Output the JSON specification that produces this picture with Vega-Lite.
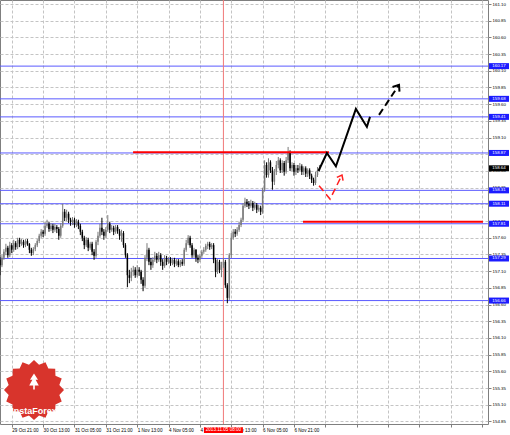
{
"$schema":"https://vega.github.io/schema/vega-lite/v6.json",
"width":488,"height":424,
"autosize":{"type":"none"},
"padding":{"left":0,"top":0,"right":22,"bottom":11},
"background":"#ffffff",
"config":{
 "view":{"stroke":"#7f7f7f","strokeWidth":1},
 "scale":{"continuousPadding":0},
 "axis":{"labelFont":"Liberation Sans","labelColor":"#000000","title":null,"grid":true,"gridColor":"#c4c4c4","gridDash":[3,2],"gridWidth":1,"domain":false,"tickSize":3,"tickColor":"#7f7f7f","labelOverlap":false,"labelFlush":false,"labelBound":false,"tickCount":60},
 "axisX":{"labelFontSize":4.6,"labelAlign":"left","labelBaseline":"top","labelPadding":0},
 "axisY":{"labelFontSize":4.4,"labelPadding":1,"labelBaseline":"middle"}
},
"datasets":{
"bars":[
{"i":-6,"o":157.27,"h":157.31,"l":157.04,"c":157.19},
{"i":-5,"o":157.19,"h":157.34,"l":157.16,"c":157.30},
{"i":-4,"o":157.30,"h":157.43,"l":157.27,"c":157.39},
{"i":-3,"o":157.39,"h":157.51,"l":157.34,"c":157.45},
{"i":-2,"o":157.45,"h":157.48,"l":157.30,"c":157.34},
{"i":-1,"o":157.34,"h":157.54,"l":157.31,"c":157.49},
{"i":0,"o":157.49,"h":157.52,"l":157.37,"c":157.42},
{"i":1,"o":157.42,"h":157.57,"l":157.39,"c":157.52},
{"i":2,"o":157.52,"h":157.55,"l":157.42,"c":157.46},
{"i":3,"o":157.46,"h":157.60,"l":157.43,"c":157.57},
{"i":4,"o":157.57,"h":157.60,"l":157.46,"c":157.51},
{"i":5,"o":157.51,"h":157.58,"l":157.48,"c":157.54},
{"i":6,"o":157.54,"h":157.57,"l":157.45,"c":157.49},
{"i":7,"o":157.49,"h":157.58,"l":157.46,"c":157.55},
{"i":8,"o":157.55,"h":157.58,"l":157.48,"c":157.51},
{"i":9,"o":157.51,"h":157.52,"l":157.37,"c":157.42},
{"i":10,"o":157.42,"h":157.45,"l":157.33,"c":157.37},
{"i":11,"o":157.37,"h":157.46,"l":157.34,"c":157.43},
{"i":12,"o":157.43,"h":157.52,"l":157.40,"c":157.49},
{"i":13,"o":157.49,"h":157.58,"l":157.46,"c":157.55},
{"i":14,"o":157.55,"h":157.66,"l":157.52,"c":157.63},
{"i":15,"o":157.63,"h":157.73,"l":157.60,"c":157.69},
{"i":16,"o":157.69,"h":157.72,"l":157.61,"c":157.66},
{"i":17,"o":157.66,"h":157.84,"l":157.63,"c":157.78},
{"i":18,"o":157.78,"h":157.87,"l":157.75,"c":157.81},
{"i":19,"o":157.81,"h":157.84,"l":157.69,"c":157.73},
{"i":20,"o":157.73,"h":157.82,"l":157.70,"c":157.78},
{"i":21,"o":157.78,"h":157.81,"l":157.67,"c":157.72},
{"i":22,"o":157.72,"h":157.81,"l":157.69,"c":157.76},
{"i":23,"o":157.76,"h":157.79,"l":157.67,"c":157.73},
{"i":24,"o":157.73,"h":157.76,"l":157.57,"c":157.63},
{"i":25,"o":157.63,"h":157.82,"l":157.60,"c":157.78},
{"i":26,"o":157.78,"h":158.11,"l":157.75,"c":157.99},
{"i":27,"o":157.99,"h":158.03,"l":157.85,"c":157.90},
{"i":28,"o":157.90,"h":158.02,"l":157.85,"c":157.96},
{"i":29,"o":157.96,"h":157.99,"l":157.82,"c":157.87},
{"i":30,"o":157.87,"h":157.90,"l":157.78,"c":157.84},
{"i":31,"o":157.84,"h":157.91,"l":157.79,"c":157.87},
{"i":32,"o":157.87,"h":157.90,"l":157.75,"c":157.79},
{"i":33,"o":157.79,"h":157.88,"l":157.76,"c":157.84},
{"i":34,"o":157.84,"h":157.87,"l":157.73,"c":157.78},
{"i":35,"o":157.78,"h":157.81,"l":157.64,"c":157.69},
{"i":36,"o":157.69,"h":157.72,"l":157.55,"c":157.60},
{"i":37,"o":157.60,"h":157.63,"l":157.43,"c":157.49},
{"i":38,"o":157.49,"h":157.61,"l":157.46,"c":157.57},
{"i":39,"o":157.57,"h":157.60,"l":157.40,"c":157.45},
{"i":40,"o":157.45,"h":157.54,"l":157.42,"c":157.51},
{"i":41,"o":157.51,"h":157.54,"l":157.34,"c":157.39},
{"i":42,"o":157.39,"h":157.43,"l":157.27,"c":157.33},
{"i":43,"o":157.33,"h":157.57,"l":157.30,"c":157.54},
{"i":44,"o":157.54,"h":157.69,"l":157.49,"c":157.63},
{"i":45,"o":157.63,"h":157.81,"l":157.60,"c":157.75},
{"i":46,"o":157.75,"h":157.90,"l":157.64,"c":157.69},
{"i":47,"o":157.69,"h":157.73,"l":157.57,"c":157.63},
{"i":48,"o":157.63,"h":157.76,"l":157.60,"c":157.72},
{"i":49,"o":157.72,"h":157.94,"l":157.69,"c":157.81},
{"i":50,"o":157.81,"h":157.84,"l":157.67,"c":157.72},
{"i":51,"o":157.72,"h":157.79,"l":157.69,"c":157.75},
{"i":52,"o":157.75,"h":157.78,"l":157.64,"c":157.69},
{"i":53,"o":157.69,"h":157.79,"l":157.66,"c":157.76},
{"i":54,"o":157.76,"h":157.79,"l":157.66,"c":157.70},
{"i":55,"o":157.70,"h":157.73,"l":157.57,"c":157.63},
{"i":56,"o":157.63,"h":157.72,"l":157.54,"c":157.67},
{"i":57,"o":157.67,"h":157.70,"l":157.45,"c":157.49},
{"i":58,"o":157.49,"h":157.52,"l":157.30,"c":157.34},
{"i":59,"o":157.34,"h":157.37,"l":156.86,"c":157.04},
{"i":60,"o":157.04,"h":157.12,"l":156.92,"c":157.00},
{"i":61,"o":157.00,"h":157.15,"l":156.95,"c":157.09},
{"i":62,"o":157.09,"h":157.18,"l":157.03,"c":157.12},
{"i":63,"o":157.12,"h":157.16,"l":157.00,"c":157.04},
{"i":64,"o":157.04,"h":157.19,"l":157.01,"c":157.12},
{"i":65,"o":157.12,"h":157.16,"l":157.03,"c":157.09},
{"i":66,"o":157.09,"h":157.12,"l":156.91,"c":156.97},
{"i":67,"o":156.97,"h":157.01,"l":156.80,"c":156.88},
{"i":68,"o":156.88,"h":157.34,"l":156.85,"c":157.30},
{"i":69,"o":157.30,"h":157.52,"l":157.25,"c":157.42},
{"i":70,"o":157.42,"h":157.45,"l":157.19,"c":157.24},
{"i":71,"o":157.24,"h":157.30,"l":157.12,"c":157.19},
{"i":72,"o":157.19,"h":157.31,"l":157.15,"c":157.27},
{"i":73,"o":157.27,"h":157.39,"l":157.24,"c":157.33},
{"i":74,"o":157.33,"h":157.37,"l":157.22,"c":157.27},
{"i":75,"o":157.27,"h":157.39,"l":157.24,"c":157.34},
{"i":76,"o":157.34,"h":157.37,"l":157.18,"c":157.24},
{"i":77,"o":157.24,"h":157.28,"l":157.12,"c":157.18},
{"i":78,"o":157.18,"h":157.34,"l":157.15,"c":157.30},
{"i":79,"o":157.30,"h":157.33,"l":157.19,"c":157.24},
{"i":80,"o":157.24,"h":157.31,"l":157.21,"c":157.28},
{"i":81,"o":157.28,"h":157.31,"l":157.18,"c":157.22},
{"i":82,"o":157.22,"h":157.30,"l":157.19,"c":157.27},
{"i":83,"o":157.27,"h":157.30,"l":157.16,"c":157.21},
{"i":84,"o":157.21,"h":157.28,"l":157.18,"c":157.25},
{"i":85,"o":157.25,"h":157.28,"l":157.16,"c":157.19},
{"i":86,"o":157.19,"h":157.27,"l":157.16,"c":157.24},
{"i":87,"o":157.24,"h":157.28,"l":157.18,"c":157.21},
{"i":88,"o":157.21,"h":157.45,"l":157.18,"c":157.42},
{"i":89,"o":157.42,"h":157.57,"l":157.39,"c":157.52},
{"i":90,"o":157.52,"h":157.64,"l":157.49,"c":157.60},
{"i":91,"o":157.60,"h":157.63,"l":157.45,"c":157.49},
{"i":92,"o":157.49,"h":157.52,"l":157.30,"c":157.34},
{"i":93,"o":157.34,"h":157.45,"l":157.30,"c":157.42},
{"i":94,"o":157.42,"h":157.43,"l":157.24,"c":157.30},
{"i":95,"o":157.30,"h":157.34,"l":157.22,"c":157.27},
{"i":96,"o":157.27,"h":157.36,"l":157.24,"c":157.33},
{"i":97,"o":157.33,"h":157.42,"l":157.30,"c":157.39},
{"i":98,"o":157.39,"h":157.46,"l":157.36,"c":157.42},
{"i":99,"o":157.42,"h":157.51,"l":157.39,"c":157.48},
{"i":100,"o":157.48,"h":157.54,"l":157.43,"c":157.51},
{"i":101,"o":157.51,"h":157.54,"l":157.42,"c":157.46},
{"i":102,"o":157.46,"h":157.52,"l":157.43,"c":157.49},
{"i":103,"o":157.49,"h":157.52,"l":157.22,"c":157.27},
{"i":104,"o":157.27,"h":157.30,"l":157.01,"c":157.09},
{"i":105,"o":157.09,"h":157.28,"l":157.06,"c":157.24},
{"i":106,"o":157.24,"h":157.27,"l":157.07,"c":157.12},
{"i":107,"o":157.12,"h":157.24,"l":157.01,"c":157.19},
{"i":108,"o":157.19,"h":157.30,"l":157.15,"c":157.24},
{"i":109,"o":157.24,"h":157.27,"l":156.85,"c":156.89},
{"i":110,"o":156.89,"h":156.92,"l":156.62,"c":156.70},
{"i":111,"o":156.70,"h":157.37,"l":156.67,"c":157.34},
{"i":112,"o":157.34,"h":157.67,"l":157.30,"c":157.60},
{"i":113,"o":157.60,"h":157.73,"l":157.57,"c":157.69},
{"i":114,"o":157.69,"h":157.73,"l":157.61,"c":157.66},
{"i":115,"o":157.66,"h":157.76,"l":157.63,"c":157.72},
{"i":116,"o":157.72,"h":157.84,"l":157.69,"c":157.79},
{"i":117,"o":157.79,"h":157.90,"l":157.76,"c":157.87},
{"i":118,"o":157.87,"h":158.12,"l":157.84,"c":158.08},
{"i":119,"o":158.08,"h":158.20,"l":158.05,"c":158.14},
{"i":120,"o":158.14,"h":158.18,"l":158.06,"c":158.11},
{"i":121,"o":158.11,"h":158.15,"l":158.03,"c":158.08},
{"i":122,"o":158.08,"h":158.17,"l":158.05,"c":158.12},
{"i":123,"o":158.12,"h":158.15,"l":158.00,"c":158.05},
{"i":124,"o":158.05,"h":158.14,"l":158.02,"c":158.09},
{"i":125,"o":158.09,"h":158.12,"l":157.97,"c":158.02},
{"i":126,"o":158.02,"h":158.09,"l":157.99,"c":158.05},
{"i":127,"o":158.05,"h":158.08,"l":157.94,"c":157.99},
{"i":128,"o":157.99,"h":158.35,"l":157.96,"c":158.32},
{"i":129,"o":158.32,"h":158.76,"l":158.29,"c":158.69},
{"i":130,"o":158.69,"h":158.73,"l":158.50,"c":158.54},
{"i":131,"o":158.54,"h":158.79,"l":158.50,"c":158.73},
{"i":132,"o":158.73,"h":158.76,"l":158.57,"c":158.61},
{"i":133,"o":158.61,"h":158.66,"l":158.32,"c":158.44},
{"i":134,"o":158.44,"h":158.63,"l":158.39,"c":158.59},
{"i":135,"o":158.59,"h":158.75,"l":158.54,"c":158.69},
{"i":136,"o":158.69,"h":158.81,"l":158.64,"c":158.76},
{"i":137,"o":158.76,"h":158.79,"l":158.57,"c":158.61},
{"i":138,"o":158.61,"h":158.76,"l":158.57,"c":158.72},
{"i":139,"o":158.72,"h":158.75,"l":158.53,"c":158.59},
{"i":140,"o":158.59,"h":158.81,"l":158.56,"c":158.76},
{"i":141,"o":158.76,"h":158.96,"l":158.72,"c":158.88},
{"i":142,"o":158.88,"h":158.91,"l":158.60,"c":158.64},
{"i":143,"o":158.64,"h":158.73,"l":158.60,"c":158.69},
{"i":144,"o":158.69,"h":158.72,"l":158.53,"c":158.59},
{"i":145,"o":158.59,"h":158.69,"l":158.54,"c":158.64},
{"i":146,"o":158.64,"h":158.69,"l":158.57,"c":158.61},
{"i":147,"o":158.61,"h":158.72,"l":158.59,"c":158.67},
{"i":148,"o":158.67,"h":158.70,"l":158.54,"c":158.59},
{"i":149,"o":158.59,"h":158.67,"l":158.54,"c":158.64},
{"i":150,"o":158.64,"h":158.67,"l":158.51,"c":158.56},
{"i":151,"o":158.56,"h":158.64,"l":158.51,"c":158.61},
{"i":152,"o":158.61,"h":158.64,"l":158.48,"c":158.53},
{"i":153,"o":158.53,"h":158.56,"l":158.42,"c":158.47},
{"i":154,"o":158.47,"h":158.50,"l":158.38,"c":158.42},
{"i":155,"o":158.42,"h":158.59,"l":158.39,"c":158.54},
{"i":156,"o":158.54,"h":158.66,"l":158.51,"c":158.61},
{"i":157,"o":158.61,"h":158.69,"l":158.59,"c":158.64}
],
"levels":[{"p":160.17},{"p":159.68},{"p":159.41},{"p":158.87},{"p":158.31},{"p":158.11},{"p":157.81},{"p":157.29},{"p":156.66}],
"tags":[{"p":160.17},{"p":159.68},{"p":159.41},{"p":158.87},{"p":158.64},{"p":158.31},{"p":158.11},{"p":157.81},{"p":157.29},{"p":156.66}],
"cursor":[{"i":108,"t":"2013.11.05 08:00"}],
"redlines":[{"i":61.9,"i2":161.9,"p":158.88},{"i":148.6,"i2":240.4,"p":157.84}],
"blk":[{"k":0,"i":156.5,"p":158.60},{"k":1,"i":160.8,"p":158.87},{"k":2,"i":165.4,"p":158.67},{"k":3,"i":175.6,"p":159.53},{"k":4,"i":181.2,"p":159.26},{"k":5,"i":182.8,"p":159.41}],
"blkdash":[{"k":0,"i":187.4,"p":159.44},{"k":1,"i":197.6,"p":159.89}],
"reddash":[{"k":0,"i":156.8,"p":158.38},{"k":1,"i":162.4,"p":158.18},{"k":2,"i":168.5,"p":158.54}],
"blkhead":[{"i":197.6,"p":159.89}],
"redhead":[{"i":168.5,"p":158.54}],
"logo":[{"brand":"InstaForex"}]
},
"layer":[
{"data":{"name":"bars"},"mark":{"type":"rule","strokeWidth":1,"opacity":0},
 "encoding":{
  "x":{"field":"i","type":"quantitative","scale":{"domain":[-6,243],"nice":false,"zero":false,"padding":0},
   "axis":{"values":[-16,0,16,32,48,64,80,96,112,128,144,160,176,192,208,224,240],"tickCount":60,
    "labelExpr":"datum.value <= 144 ? ['29 Oct 05:00','29 Oct 21:00','30 Oct 13:00','31 Oct 05:00','31 Oct 21:00','1 Nov 13:00','4 Nov 05:00','4 Nov 21:00','5 Nov 13:00','6 Nov 05:00','6 Nov 21:00'][(datum.value + 16) / 16] : ''"}},
  "y":{"field":"l","type":"quantitative","scale":{"domain":[154.812,161.16],"nice":false,"zero":false,"padding":0},
   "axis":{"orient":"right","tickCount":60,"values":[154.85,155.1,155.35,155.6,155.85,156.1,156.35,156.6,156.85,157.1,157.35,157.6,157.85,158.1,158.35,158.6,158.85,159.1,159.35,159.6,159.85,160.1,160.35,160.6,160.85,161.1],"format":".2f"}},
  "y2":{"field":"h"}}},
{"data":{"name":"levels"},"mark":{"type":"rule","color":"#5a5aff","strokeWidth":1},
 "encoding":{"y":{"field":"p","type":"quantitative","scale":{"domain":[154.812,161.16],"nice":false,"zero":false,"padding":0}}}},
{"data":{"name":"cursor"},"mark":{"type":"rule","color":"#f07878","strokeWidth":1},
 "encoding":{"x":{"field":"i","type":"quantitative","scale":{"domain":[-6,243],"nice":false,"zero":false,"padding":0}}}},
{"data":{"name":"bars"},"mark":{"type":"rule","strokeWidth":1},
 "encoding":{
  "x":{"field":"i","type":"quantitative","scale":{"domain":[-6,243],"nice":false,"zero":false,"padding":0}},
  "y":{"field":"l","type":"quantitative","scale":{"domain":[154.812,161.16],"nice":false,"zero":false,"padding":0}},
  "y2":{"field":"h"},
  "color":{"condition":{"test":"datum.c >= datum.o","value":"#7a7a7a"},"value":"#000000"}}},
{"data":{"name":"bars"},"mark":{"type":"bar","size":1.5},
 "encoding":{
  "x":{"field":"i","type":"quantitative","scale":{"domain":[-6,243],"nice":false,"zero":false,"padding":0}},
  "y":{"field":"o","type":"quantitative","scale":{"domain":[154.812,161.16],"nice":false,"zero":false,"padding":0}},
  "y2":{"field":"c"},
  "color":{"condition":{"test":"datum.c >= datum.o","value":"#7a7a7a"},"value":"#000000"}}},
{"data":{"name":"redlines"},"mark":{"type":"rule","color":"#ff0000","strokeWidth":2},
 "encoding":{
  "x":{"field":"i","type":"quantitative","scale":{"domain":[-6,243],"nice":false,"zero":false,"padding":0}},
  "x2":{"field":"i2"},
  "y":{"field":"p","type":"quantitative","scale":{"domain":[154.812,161.16],"nice":false,"zero":false,"padding":0}}}},
{"data":{"name":"blk"},"mark":{"type":"line","color":"#000000","strokeWidth":2},
 "encoding":{
  "x":{"field":"i","type":"quantitative","scale":{"domain":[-6,243],"nice":false,"zero":false,"padding":0}},
  "y":{"field":"p","type":"quantitative","scale":{"domain":[154.812,161.16],"nice":false,"zero":false,"padding":0}},
  "order":{"field":"k"}}},
{"data":{"name":"blkdash"},"mark":{"type":"line","color":"#000000","strokeWidth":2,"strokeDash":[7,4]},
 "encoding":{
  "x":{"field":"i","type":"quantitative","scale":{"domain":[-6,243],"nice":false,"zero":false,"padding":0}},
  "y":{"field":"p","type":"quantitative","scale":{"domain":[154.812,161.16],"nice":false,"zero":false,"padding":0}},
  "order":{"field":"k"}}},
{"data":{"name":"reddash"},"mark":{"type":"line","color":"#ff2020","strokeWidth":1.5,"strokeDash":[7,4]},
 "encoding":{
  "x":{"field":"i","type":"quantitative","scale":{"domain":[-6,243],"nice":false,"zero":false,"padding":0}},
  "y":{"field":"p","type":"quantitative","scale":{"domain":[154.812,161.16],"nice":false,"zero":false,"padding":0}},
  "order":{"field":"k"}}},
{"data":{"name":"blkhead"},"mark":{"type":"point","shape":"M-0.7,0.9L0,0L0.7,0.9","filled":false,"size":144,"angle":34,"color":"#000000","strokeWidth":2,"opacity":1},
 "encoding":{
  "x":{"field":"i","type":"quantitative","scale":{"domain":[-6,243],"nice":false,"zero":false,"padding":0}},
  "y":{"field":"p","type":"quantitative","scale":{"domain":[154.812,161.16],"nice":false,"zero":false,"padding":0}}}},
{"data":{"name":"redhead"},"mark":{"type":"point","shape":"M-0.7,0.9L0,0L0.7,0.9","filled":false,"size":100,"angle":27,"color":"#ff2020","strokeWidth":1.5,"opacity":1},
 "encoding":{
  "x":{"field":"i","type":"quantitative","scale":{"domain":[-6,243],"nice":false,"zero":false,"padding":0}},
  "y":{"field":"p","type":"quantitative","scale":{"domain":[154.812,161.16],"nice":false,"zero":false,"padding":0}}}},
{"data":{"name":"tags"},"mark":{"type":"point","shape":"M-1,-0.3H1V0.3H-1Z","filled":true,"size":400,"opacity":1,"strokeWidth":0},
 "encoding":{
  "x":{"datum":248.6,"type":"quantitative","scale":{"domain":[-6,243],"nice":false,"zero":false,"padding":0}},
  "y":{"field":"p","type":"quantitative","scale":{"domain":[154.812,161.16],"nice":false,"zero":false,"padding":0}},
  "color":{"condition":{"test":"datum.p == 158.64","value":"#000000"},"value":"#1c1cff"}}},
{"data":{"name":"tags"},"mark":{"type":"text","fontSize":4.4,"font":"Liberation Sans","color":"#ffffff","align":"center","baseline":"middle"},
 "encoding":{
  "x":{"datum":248.6,"type":"quantitative","scale":{"domain":[-6,243],"nice":false,"zero":false,"padding":0}},
  "y":{"field":"p","type":"quantitative","scale":{"domain":[154.812,161.16],"nice":false,"zero":false,"padding":0}},
  "text":{"field":"p","type":"quantitative","format":".2f"}}},
{"data":{"name":"cursor"},"mark":{"type":"point","shape":"M-1,-0.15H1V0.15H-1Z","filled":true,"size":1521,"opacity":1,"strokeWidth":0,"color":"#ff0000"},
 "encoding":{
  "x":{"field":"i","type":"quantitative","scale":{"domain":[-6,243],"nice":false,"zero":false,"padding":0}},
  "y":{"datum":154.72,"type":"quantitative","scale":{"domain":[154.812,161.16],"nice":false,"zero":false,"padding":0}}}},
{"data":{"name":"cursor"},"mark":{"type":"text","fontSize":4.6,"font":"Liberation Sans","color":"#ffffff","align":"center","baseline":"middle"},
 "encoding":{
  "x":{"field":"i","type":"quantitative","scale":{"domain":[-6,243],"nice":false,"zero":false,"padding":0}},
  "y":{"datum":154.72,"type":"quantitative","scale":{"domain":[154.812,161.16],"nice":false,"zero":false,"padding":0}},
  "text":{"field":"t"}}},
{"data":{"name":"logo"},"mark":{"type":"point","shape":"M1,0L0.844,0.168L0.924,0.383L0.715,0.478L0.707,0.707L0.478,0.715L0.383,0.924L0.168,0.844L0,1L-0.168,0.844L-0.383,0.924L-0.478,0.715L-0.707,0.707L-0.715,0.478L-0.924,0.383L-0.844,0.168L-1,0L-0.844,-0.168L-0.924,-0.383L-0.715,-0.478L-0.707,-0.707L-0.478,-0.715L-0.383,-0.924L-0.168,-0.844L0,-1L0.168,-0.844L0.383,-0.924L0.478,-0.715L0.707,-0.707L0.715,-0.478L0.924,-0.383L0.844,-0.168Z","filled":true,"size":3600,"opacity":1,"strokeWidth":0,"color":"#d8342c"},
 "encoding":{
  "x":{"datum":11.35,"type":"quantitative","scale":{"domain":[-6,243],"nice":false,"zero":false,"padding":0}},
  "y":{"datum":155.32,"type":"quantitative","scale":{"domain":[154.812,161.16],"nice":false,"zero":false,"padding":0}}}},
{"data":{"name":"logo"},"mark":{"type":"point","shape":"M0,-1L0.5,-0.2L0.2,-0.2L0.6,0.5L0.1,0.5L0.1,1L-0.1,1L-0.1,0.5L-0.6,0.5L-0.2,-0.2L-0.5,-0.2Z","filled":true,"size":256,"opacity":1,"strokeWidth":0,"color":"#ffffff"},
 "encoding":{
  "x":{"datum":11.35,"type":"quantitative","scale":{"domain":[-6,243],"nice":false,"zero":false,"padding":0}},
  "y":{"datum":155.45,"type":"quantitative","scale":{"domain":[154.812,161.16],"nice":false,"zero":false,"padding":0}}}},
{"data":{"name":"logo"},"mark":{"type":"text","fontSize":9,"fontWeight":"bold","font":"Liberation Sans","color":"#ffffff","align":"center","baseline":"middle"},
 "encoding":{
  "x":{"datum":11.35,"type":"quantitative","scale":{"domain":[-6,243],"nice":false,"zero":false,"padding":0}},
  "y":{"datum":155.01,"type":"quantitative","scale":{"domain":[154.812,161.16],"nice":false,"zero":false,"padding":0}},
  "text":{"field":"brand"}}}
]
}
